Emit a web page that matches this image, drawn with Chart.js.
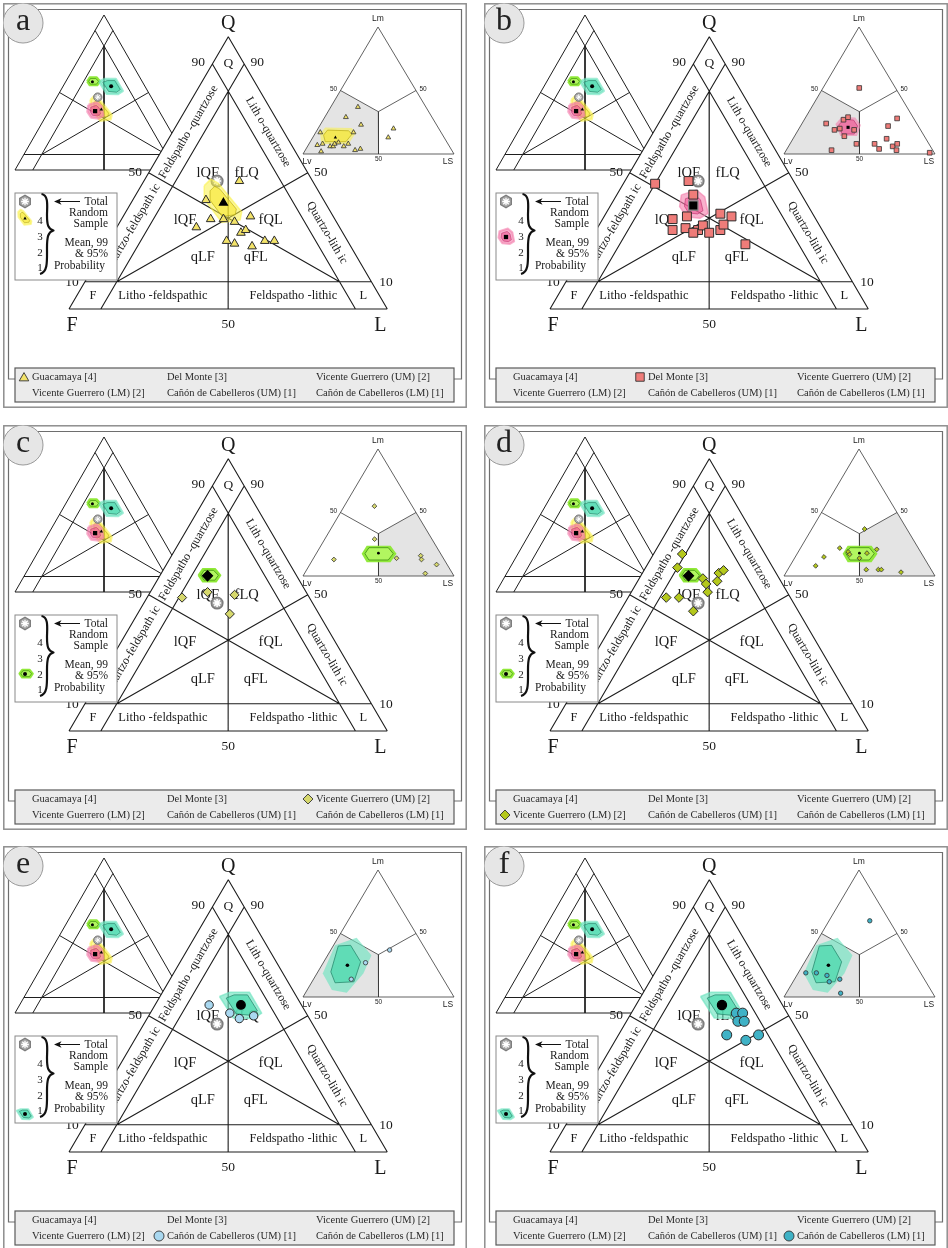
<!DOCTYPE html>
<html>
<head>
<meta charset="utf-8">
<title>QFL / LmLvLs ternary plots</title>
<script src="https://cdn.jsdelivr.net/npm/chart.js@4.4.1/dist/chart.umd.min.js"></script>
<style>
  html, body { margin: 0; padding: 0; background: #ffffff; }
  body { position: relative; width: 948px; height: 1248px; overflow: hidden; }
  canvas { position: absolute; }
</style>
</head>
<body>
<canvas id="panel-a" width="464" height="405" style="left:3px;top:3px"></canvas>
<canvas id="panel-b" width="464" height="405" style="left:484px;top:3px"></canvas>
<canvas id="panel-c" width="464" height="405" style="left:3px;top:425px"></canvas>
<canvas id="panel-d" width="464" height="405" style="left:484px;top:425px"></canvas>
<canvas id="panel-e" width="464" height="405" style="left:3px;top:846px"></canvas>
<canvas id="panel-f" width="464" height="405" style="left:484px;top:846px"></canvas>
<script>
// ---- data -----------------------------------------------------------------
const legendLabels = ['Guacamaya [4]', 'Del Monte [3]', 'Vicente Guerrero (UM) [2]',
  'Vicente Guerrero (LM) [2]', 'Cañón de Cabelleros (UM) [1]', 'Cañón de Cabelleros (LM) [1]'];

// sample compositions, [Q, F, L] %
const qflGuacamaya = [[47,23,30],[40,37,23],[33,39,28],[30,45,25],[33,35,32],[32,32,36],[34,26,40],
  [28,32,40],[29,30,41],[25,38,37],[24,36,40],[23,31,46],[25,26,49],[25,23,52]];
const qflDelMonte = [[46,44,10],[47,33,20],[42,34,24],[33,45,22],[29,47,24],[30,43,28],[29,39,32],
  [31,37,33],[28,36,36],[29,32,39],[35,29,36],[34,26,40],[31,30,39],[24,27,50],[34,40,26],[28,41,31]];
const qflVGUM = [[49,40,11],[51,31,18],[50,23,27],[43,28,29]];
const qflVGLM = [[65,26,9],[60,30,10],[56,24,20],[54,24,22],[58,18,24],[59,16,25],[55,20,25],
  [51,25,24],[49,39,12],[49,35,16],[44,33,23]];
const qflCCUM = [[54,29,17],[51,24,25],[49,22,29],[50,17,33]];
const qflCCLM = [[51,16,33],[51,14,35],[48,17,35],[48,15,37],[43,23,34],[41,18,41],[43,13,44]];

// lithic fragments, [Lm, Lv, Ls] %
const lmGuacamaya = [[17,80,3],[7,87,6],[8,83,9],[6,79,15],[6,77,17],[8,75,17],[9,72,19],[6,70,24],
  [8,66,26],[17,58,25],[2,87,11],[3,64,33],[4,60,36],[37,45,18],[29,57,14],[23,50,27],[20,30,50],[13,37,50]];
const lmDelMonte = [[52,24,24],[24,60,16],[27,47,26],[29,43,28],[19,57,24],[20,53,27],[14,53,33],
  [19,44,37],[8,48,44],[3,67,30],[8,36,56],[4,35,61],[12,26,62],[22,20,58],[28,11,61],[6,25,69],
  [8,21,71],[3,24,73],[1,3,96]];
const lmVGUM = [[55,25,20],[29,38,33],[13,73,14],[14,31,55],[16,14,70],[13,15,72],[9,7,84],[2,18,80]];
const lmVGLM = [[37,28,35],[22,52,26],[15,66,19],[8,75,17],[19,48,33],[17,48,35],[14,43,43],[18,36,46],
  [21,28,51],[5,43,52],[5,35,60],[5,33,62],[3,21,76]];
const lmCCUM = [[27,45,28],[14,61,25],[37,24,39]];
const lmCCLM = [[60,13,27],[19,76,5],[19,69,12],[17,63,20],[12,64,24],[14,56,30],[3,61,36]];

// group means
const meanQflGuacamaya = [39,32,29];
const meanQflDelMonte = [38,36,26];
const meanQflVG = [57,28,15];
const meanQflCC = [54,19,27];
const meanQflTotal = [47,30,23];
const meanLmGuacamaya = [13,72,15];
const meanLmDelMonte = [21,47,32];
const meanLmVG = [18,41,41];
const meanLmCC = [25,58,17];

// 99 % (outer) and 95 % (inner) regions around the means
const hullGuacOuter = [[45.3,34.9,19.8],[47.7,31.6,20.7],[46.2,30,23.8],[35.7,27.9,36.4],[32.7,29.9,37.4],[31.8,36.1,32.1],[40,37.3,22.7]];
const hullGuacInner = [[43.4,34,22.6],[45.1,31.7,23.2],[44,30.6,25.4],[36.7,29.1,34.2],[34.6,30.5,34.9],[34,34.9,31.1],[39.7,35.7,24.6]];
const hullDelMonteOuter = [[41.9,37.8,20.3],[43.7,32.1,24.2],[41.2,30.8,28],[35.1,32.8,32.1],[33.3,36.3,30.4],[33.9,40.2,25.9],[37.6,40.5,21.9]];
const hullDelMonteInner = [[40.5,37.2,22.3],[41.7,33.5,24.8],[40.1,32.7,27.2],[36.1,33.9,30],[34.9,36.2,28.9],[35.3,38.8,25.9],[37.7,38.9,23.4]];
const hullVGOuter = [[57.2,30.8,12],[59.6,28.2,12.2],[59.6,24.3,16.1],[57.2,23.8,19],[54.8,26.4,18.8],[54.8,30.6,14.6]];
const hullVGInner = [[57.2,30,12.8],[59,28.1,12.9],[59,25.1,15.9],[57.2,24.5,18.3],[55.4,26.5,18.1],[55.4,29.9,14.7]];
const hullCCOuter = [[57.1,24.2,18.7],[58.7,20.1,21.2],[58.7,14,27.3],[51,14,35],[49,17.6,33.4],[49.2,23.8,27]];
const hullCCInner = [[56.5,22.4,21.1],[57.7,19.3,23],[57.7,15.1,27.2],[51.9,14.9,33.2],[50.2,17.8,32],[50.7,22.1,27.2]];

const lmHullGuacOuter = [[16.2,80.5,3.3],[20.9,74.8,4.3],[20.4,57.5,22.1],[16.8,56.4,26.8],[7.9,65.9,26.2],[7.9,83.9,8.2]];
const lmHullGuacInner = [[14.9,78.9,6.2],[18.8,74.3,6.9],[18.3,60.7,21],[15.7,59.6,24.7],[9.7,66.7,23.6],[9.7,80.4,9.9]];
const lmHullDelMonteOuter = [[23.6,54.1,22.3],[29.3,46.9,23.8],[28.8,38.3,32.9],[22.8,37.6,39.6],[14.1,44.6,41.3],[14.1,55.6,30.3]];
const lmHullDelMonteInner = [[22.8,52.3,24.9],[27.2,46.8,26],[26.7,40.5,32.8],[22,40.2,37.8],[15.7,45.6,38.7],[15.7,53.7,30.6]];
const lmHullVGOuter = [[17.6,52.3,30.1],[23.9,45.8,30.3],[23.9,30,46.1],[17.6,29.2,53.2],[10.8,36.6,52.6],[10.8,52.4,36.8]];
const lmHullVGInner = [[17.6,50.1,32.3],[22.3,45.1,32.6],[22.3,32.3,45.4],[17.6,31.4,51],[12.6,37.2,50.2],[12.6,50,37.4]];
const lmHullCCOuter = [[18.5,77.6,3.9],[40.7,58.3,1],[46.7,41,12.3],[32.9,38.1,29],[18.5,50.7,30.8],[3.4,69.3,27.3],[5.5,78.1,16.4]];
const lmHullCCInner = [[19.8,71.6,8.6],[40.2,56.4,3.4],[40.7,48,11.3],[27.7,47.9,24.4],[12,60.2,27.8],[11.2,73.1,15.7]];

// diagram fields (apex, left, right components)
const qflGrid = [
  [[100,0,0],[0,100,0]], [[0,100,0],[0,0,100]], [[0,0,100],[100,0,0]],
  [[90,10,0],[0,10,90]], [[90,0,10],[0,90,10]], [[10,90,0],[10,0,90]],
  [[50,50,0],[10,10,80]], [[50,0,50],[10,80,10]], [[80,10,10],[0,50,50]]
];
const lmGrid = [
  [[1,0,0],[0,1,0]], [[0,1,0],[0,0,1]], [[0,0,1],[1,0,0]],
  [[1,1,0],[1,1,1]], [[1,0,1],[1,1,1]], [[1,1,1],[0,1,1]]
];
const lvField = [[0,1,0],[1,1,0],[1,1,1],[0,1,1]];
const lsField = [[0,0,1],[1,0,1],[1,1,1],[0,1,1]];

// ---- layout & style --------------------------------------------------------
const W = 464, H = 405;
const SERIF = '"Liberation Serif", "Times New Roman", Times, serif';
const SANS = '"Liberation Sans", Arial, Helvetica, sans-serif';
const mainTri = { top: [225.3, 33.7], left: [66, 306], right: [384.3, 306] };
const qflInset = { top: [101, 12], left: [12, 167], right: [190, 167] };
const lmInset = { top: [375, 24], left: [300, 151], right: [451, 151] };

const hullYellow = { outer: 'rgba(250,240,70,0.55)', inner: 'rgba(246,230,40,0.55)', line: 'rgba(185,170,20,0.85)' };
const hullPink = { outer: 'rgba(243,125,172,0.6)', inner: 'rgba(236,84,146,0.55)', line: 'rgba(190,50,110,0.8)' };
const hullGreen = { outer: 'rgba(140,232,50,0.95)', inner: 'rgba(180,247,98,0.95)', line: '#3f8f10' };
const hullTeal = { outer: 'rgba(110,228,192,0.65)', inner: 'rgba(72,216,172,0.7)', line: '#2a8c70' };

function tern(tri, v) {
  const s = v[0] + v[1] + v[2];
  return {
    x: (v[0] * tri.top[0] + v[1] * tri.left[0] + v[2] * tri.right[0]) / s,
    y: (v[0] * tri.top[1] + v[1] * tri.left[1] + v[2] * tri.right[1]) / s
  };
}
function polyline(tri, list) { return list.map(v => tern(tri, v)); }
function closed(tri, list) { const p = polyline(tri, list); p.push(p[0]); return p; }
function segments(tri, segs) {
  const out = [];
  segs.forEach(s => { out.push(tern(tri, s[0]), tern(tri, s[1]), { x: null, y: null }); });
  return out;
}

function lineSet(data, color, width) {
  return { data, showLine: true, fill: false, spanGaps: false, borderColor: color, borderWidth: width,
    pointRadius: 0, pointHoverRadius: 0 };
}
function polySet(data, bg, stroke, width) {
  return { data, showLine: true, fill: 'shape', backgroundColor: bg, borderColor: stroke || 'rgba(0,0,0,0)',
    borderWidth: width || 0, borderJoinStyle: 'round', pointRadius: 0, pointHoverRadius: 0 };
}
function pointSet(data, style, radius, bg, border, bw) {
  return { data, showLine: false, pointStyle: style, pointRadius: radius, pointHoverRadius: radius,
    pointBackgroundColor: bg, pointBorderColor: border, pointBorderWidth: bw };
}

const insetGroups = [
  { outer: hullGuacOuter, inner: hullGuacInner, colors: hullYellow, mean: meanQflGuacamaya, style: 'triangle', r: 2 },
  { outer: hullDelMonteOuter, inner: hullDelMonteInner, colors: hullPink, mean: meanQflDelMonte, style: 'rect', r: 3 },
  { outer: hullVGOuter, inner: hullVGInner, colors: hullGreen, mean: meanQflVG, style: 'circle', r: 1.5 },
  { outer: hullCCOuter, inner: hullCCInner, colors: hullTeal, mean: meanQflCC, style: 'circle', r: 2 }
];

const panels = [
  { id: 'panel-a', letter: 'a', qfl: qflGuacamaya, lm: lmGuacamaya, mean: meanQflGuacamaya, lmMean: meanLmGuacamaya,
    hull: [hullGuacOuter, hullGuacInner], lmHull: [lmHullGuacOuter, lmHullGuacInner], colors: hullYellow,
    field: lvField, style: 'triangle', fill: '#f3e369', pointR: 5, insetR: 2.8, meanR: 4.6, meanBorder: '#000',
    lmMeanR: 1.9, keyY: 215, iconScale: 0.35, legendIdx: 0 },
  { id: 'panel-b', letter: 'b', qfl: qflDelMonte, lm: lmDelMonte, mean: meanQflDelMonte, lmMean: meanLmDelMonte,
    hull: [hullDelMonteOuter, hullDelMonteInner], lmHull: [lmHullDelMonteOuter, lmHullDelMonteInner], colors: hullPink,
    field: lvField, style: 'rect', fill: '#ef7c79', pointR: 6.3, insetR: 3.3, meanR: 6.6, meanBorder: '#8a8a8a',
    lmMeanR: 2.2, keyY: 234, iconScale: 0.55, legendIdx: 1 },
  { id: 'panel-c', letter: 'c', qfl: qflVGUM, lm: lmVGUM, mean: meanQflVG, lmMean: meanLmVG,
    hull: [hullVGOuter, hullVGInner], lmHull: [lmHullVGOuter, lmHullVGInner], colors: hullGreen,
    field: lsField, style: 'rectRot', fill: '#d6d86c', pointR: 4.6, insetR: 2.4, meanR: 5, meanBorder: '#000',
    lmMeanR: 1.4, keyY: 249, iconScale: 0.6, legendIdx: 2 },
  { id: 'panel-d', letter: 'd', qfl: qflVGLM, lm: lmVGLM, mean: meanQflVG, lmMean: meanLmVG,
    hull: [hullVGOuter, hullVGInner], lmHull: [lmHullVGOuter, lmHullVGInner], colors: hullGreen,
    field: lsField, style: 'rectRot', fill: '#b4c81c', pointR: 4.8, insetR: 2.4, meanR: 5, meanBorder: '#000',
    lmMeanR: 1.4, keyY: 249, iconScale: 0.6, legendIdx: 3 },
  { id: 'panel-e', letter: 'e', qfl: qflCCUM, lm: lmCCUM, mean: meanQflCC, lmMean: meanLmCC,
    hull: [hullCCOuter, hullCCInner], lmHull: [lmHullCCOuter, lmHullCCInner], colors: hullTeal,
    field: lvField, style: 'circle', fill: '#a9d8f0', pointR: 4.2, insetR: 2.2, meanR: 4.3, meanBorder: '#000',
    lmMeanR: 1.8, keyY: 268, iconScale: 0.38, legendIdx: 4 },
  { id: 'panel-f', letter: 'f', qfl: qflCCLM, lm: lmCCLM, mean: meanQflCC, lmMean: meanLmCC,
    hull: [hullCCOuter, hullCCInner], lmHull: [lmHullCCOuter, lmHullCCInner], colors: hullTeal,
    field: lvField, style: 'circle', fill: '#3fb2c6', pointR: 5, insetR: 2.2, meanR: 4.6, meanBorder: '#000',
    lmMeanR: 1.8, keyY: 268, iconScale: 0.38, legendIdx: 5 }
];

// ---- datasets --------------------------------------------------------------
function buildDatasets(p) {
  const sets = [];
  // small QFL summary diagram with every group mean
  sets.push(lineSet(segments(qflInset, qflGrid), '#1e1e1e', 1));
  insetGroups.forEach(g => {
    sets.push(polySet(closed(qflInset, g.outer), g.colors.outer, g.colors.outer, 2.5));
    sets.push(polySet(closed(qflInset, g.inner), g.colors.inner, g.colors.line, 0.7));
  });
  sets.push(pointSet([tern(qflInset, meanQflTotal)], 'circle', 4.2, '#a4a4a4', '#7c7c7c', 1));
  sets.push(pointSet([tern(qflInset, meanQflTotal)], 'star', 2.9, '#fff', '#fff', 1));
  insetGroups.forEach(g => sets.push(pointSet([tern(qflInset, g.mean)], g.style, g.r, '#000', '#000', 0)));

  // main diagram, white body hides the summary diagram behind it
  sets.push(polySet(closed(mainTri, [[100,0,0],[0,100,0],[0,0,100]]), '#ffffff'));
  const grid = lineSet(segments(mainTri, qflGrid), '#1c1c1c', 1.1);
  grid.tag = 'mainGrid';
  sets.push(grid);

  // Lm-Lv-Ls diagram
  sets.push(polySet(closed(lmInset, p.field), '#e4e4e4'));
  sets.push(lineSet(segments(lmInset, lmGrid), '#3a3a3a', 0.8));
  sets.push(polySet(closed(lmInset, p.lmHull[0]), p.colors.outer));
  sets.push(polySet(closed(lmInset, p.lmHull[1]), p.colors.inner, p.colors.line, 0.8));
  sets.push(pointSet(polyline(lmInset, p.lm), p.style, p.insetR, p.fill, '#333', 0.8));
  sets.push(pointSet([tern(lmInset, p.lmMean)], p.style === 'rectRot' ? 'circle' : p.style, p.lmMeanR, '#000', '#000', 0));

  // main data
  sets.push(pointSet([tern(mainTri, meanQflTotal)], 'circle', 5.8, '#a4a4a4', '#7c7c7c', 1.5));
  sets.push(pointSet([tern(mainTri, meanQflTotal)], 'star', 4, '#fff', '#fff', 1.6));
  sets.push(polySet(closed(mainTri, p.hull[0]), p.colors.outer, p.colors.outer, 1.5));
  sets.push(polySet(closed(mainTri, p.hull[1]), p.colors.inner, p.colors.line, 0.8));
  sets.push(pointSet(polyline(mainTri, p.qfl), p.style, p.pointR, p.fill, '#2b2b2b', 1));
  sets.push(pointSet([tern(mainTri, p.mean)], p.style, p.meanR, '#000', p.meanBorder, 1.2));

  sets.forEach((s, i) => { s.order = -i; });
  return sets;
}

// ---- canvas helpers --------------------------------------------------------
function pt(chart, u, v) { return [chart.scales.x.getPixelForValue(u), chart.scales.y.getPixelForValue(v)]; }
function tp(chart, tri, comp) { const q = tern(tri, comp); return pt(chart, q.x, q.y); }

function text(ctx, s, x, y, size, opts) {
  opts = opts || {};
  ctx.save();
  ctx.translate(x, y);
  if (opts.rot) ctx.rotate(opts.rot);
  ctx.font = size + 'px ' + (opts.family || SERIF);
  ctx.textAlign = opts.align || 'center';
  ctx.textBaseline = 'middle';
  ctx.fillStyle = opts.color || '#1a1a1a';
  ctx.fillText(s, 0, 0);
  ctx.restore();
}

function drawMarker(ctx, style, x, y, r, fill, stroke, lw) {
  ctx.save();
  ctx.beginPath();
  if (style === 'triangle') {
    for (let k = 0; k < 3; k++) {
      const a = k * 2 * Math.PI / 3;
      const px = x + Math.sin(a) * r, py = y - Math.cos(a) * r + r * 0.2;
      if (k === 0) ctx.moveTo(px, py); else ctx.lineTo(px, py);
    }
    ctx.closePath();
  } else if (style === 'rect') {
    const s = r * Math.SQRT1_2;
    ctx.rect(x - s, y - s, 2 * s, 2 * s);
  } else if (style === 'rectRot') {
    ctx.moveTo(x, y - r); ctx.lineTo(x + r, y); ctx.lineTo(x, y + r); ctx.lineTo(x - r, y); ctx.closePath();
  } else {
    ctx.arc(x, y, r, 0, Math.PI * 2);
  }
  ctx.fillStyle = fill; ctx.fill();
  if (lw) { ctx.lineWidth = lw; ctx.strokeStyle = stroke; ctx.stroke(); }
  ctx.restore();
}

function drawStarIcon(ctx, x, y, r) {
  ctx.save();
  ctx.beginPath();
  for (let k = 0; k < 6; k++) {
    const a = Math.PI / 6 + k * Math.PI / 3;
    const px = x + Math.cos(a) * r, py = y + Math.sin(a) * r;
    if (k === 0) ctx.moveTo(px, py); else ctx.lineTo(px, py);
  }
  ctx.closePath();
  ctx.fillStyle = '#a4a4a4'; ctx.fill();
  ctx.strokeStyle = '#7c7c7c'; ctx.lineWidth = 1.2; ctx.stroke();
  ctx.strokeStyle = '#fff'; ctx.lineWidth = 1.3;
  ctx.beginPath();
  for (let k = 0; k < 4; k++) {
    const a = k * Math.PI / 4, d = r * 0.62;
    ctx.moveTo(x - Math.cos(a) * d, y - Math.sin(a) * d);
    ctx.lineTo(x + Math.cos(a) * d, y + Math.sin(a) * d);
  }
  ctx.stroke();
  ctx.restore();
}

// ---- decoration drawn around the datasets ---------------------------------
function drawFrame(chart) {
  const ctx = chart.ctx;
  ctx.save();
  ctx.fillStyle = '#fff';
  ctx.fillRect(0, 0, W, H);
  ctx.strokeStyle = '#8e8e8e'; ctx.lineWidth = 1.5;
  const a = pt(chart, 0.8, 0.8), b = pt(chart, W - 0.8, H - 0.8);
  ctx.strokeRect(a[0], a[1], b[0] - a[0], b[1] - a[1]);
  ctx.strokeStyle = '#6e6e6e'; ctx.lineWidth = 1.2;
  ctx.beginPath();
  [[12, 376], [5.5, 376], [5.5, 6.5], [458.5, 6.5], [458.5, 376], [451, 376]].forEach((q, i) => {
    const c = pt(chart, q[0], q[1]);
    if (i === 0) ctx.moveTo(c[0], c[1]); else ctx.lineTo(c[0], c[1]);
  });
  ctx.stroke();
  ctx.restore();
}

function drawMainLabels(chart) {
  const ctx = chart.ctx;
  const at = (comp, dx, dy) => { const c = tp(chart, mainTri, comp); return [c[0] + (dx || 0), c[1] + (dy || 0)]; };
  const put = (s, comp, dx, dy, size, opts) => { const c = at(comp, dx, dy); text(ctx, s, c[0], c[1], size, opts); };
  const leftAng = Math.atan2(mainTri.top[1] - mainTri.left[1], mainTri.top[0] - mainTri.left[0]);
  const rightAng = Math.atan2(mainTri.right[1] - mainTri.top[1], mainTri.right[0] - mainTri.top[0]);

  put('Q', [100, 0, 0], 0, -13, 20);
  put('F', [0, 100, 0], 3, 17, 20);
  put('L', [0, 0, 100], -7, 17, 20);
  put('50', [0, 50, 50], 0, 15, 13.5);
  put('90', [90, 10, 0], -14, -1, 13.5);
  put('90', [90, 0, 10], 13, -1, 13.5);
  put('Q', [90, 5, 5], 0, 0, 13.5);
  put('50', [50, 50, 0], -13.5, 0, 13.5);
  put('50', [50, 0, 50], 13, 0, 13.5);
  put('10', [10, 90, 0], -13, 1, 13.5);
  put('10', [10, 0, 90], 14.5, 1, 13.5);

  put('lQF', [49.8, 31.5, 18.7], 0, 0, 14.5);
  put('fLQ', [49.8, 19.3, 30.9], 0, 0, 14.5);
  put('lQF', [32.7, 47.2, 20.1], 0, 0, 14.5);
  put('fQL', [32.7, 20.3, 47], 0, 0, 14.5);
  put('qLF', [19, 48.5, 32.5], 0, 0, 14.5);
  put('qFL', [19, 31.8, 49.2], 0, 0, 14.5);

  put('Feldspatho -quartzose', [65, 30, 5], 0, 0, 12, { rot: leftAng });
  put('Quartzo-feldspath ic', [30, 65, 5], 0, 0, 12, { rot: leftAng });
  put('Lith o-quartzose', [65, 5, 30], 0, 0, 12, { rot: rightAng });
  put('Quartzo-lith ic', [28, 5, 67], 0, 0, 12, { rot: rightAng });
  put('Litho -feldspathic', [5, 68, 27], 0, 0, 12.5);
  put('Feldspatho -lithic', [5, 27, 68], 0, 0, 12.5);
  put('F', [5, 90, 5], 0, 0, 12.5);
  put('L', [5, 5, 90], 0, 0, 12.5);
}

function drawInsetLabels(chart) {
  const ctx = chart.ctx;
  const put = (s, comp, dx, dy, size) => {
    const c = tp(chart, lmInset, comp);
    text(ctx, s, c[0] + dx, c[1] + dy, size, { family: SANS, color: '#222' });
  };
  put('Lm', [1, 0, 0], 0, -8, 8.5);
  put('Lv', [0, 1, 0], 4, 8, 8.5);
  put('LS', [0, 0, 1], -6, 8, 8.5);
  put('50', [0, 1, 1], 0, 5.5, 6.5);
  put('50', [1, 1, 0], -7, -1, 6.5);
  put('50', [1, 0, 1], 7, -1, 6.5);
}

function drawKey(chart, p) {
  const ctx = chart.ctx;
  const c = (u, v) => pt(chart, u, v);
  ctx.save();
  const a = c(12, 190), b = c(114, 277);
  ctx.fillStyle = '#fff';
  ctx.fillRect(a[0], a[1], b[0] - a[0], b[1] - a[1]);
  ctx.strokeStyle = '#8a8a8a'; ctx.lineWidth = 1;
  ctx.strokeRect(a[0], a[1], b[0] - a[0], b[1] - a[1]);

  const s = c(22, 198.5);
  drawStarIcon(ctx, s[0], s[1], 6.2);

  // group icon: the main confidence regions, shrunk
  const ic = c(22, p.keyY);
  const m = tp(chart, mainTri, p.mean);
  [[p.hull[0], p.colors.outer, p.colors.outer, 2], [p.hull[1], p.colors.inner, p.colors.line, 0.7]].forEach(h => {
    ctx.beginPath();
    h[0].forEach((v, i) => {
      const q = tp(chart, mainTri, v);
      const x = ic[0] + (q[0] - m[0]) * p.iconScale, y = ic[1] + (q[1] - m[1]) * p.iconScale;
      if (i === 0) ctx.moveTo(x, y); else ctx.lineTo(x, y);
    });
    ctx.closePath();
    ctx.fillStyle = h[1]; ctx.fill();
    ctx.strokeStyle = h[2]; ctx.lineWidth = h[3]; ctx.lineJoin = 'round'; ctx.stroke();
  });
  drawMarker(ctx, p.style === 'rectRot' ? 'circle' : p.style, ic[0], ic[1], p.style === 'rect' ? 3 : 2, '#000', '#000', 0);

  [['4', 218], ['3', 234], ['2', 250], ['1', 265]].forEach(n => {
    const q = c(37, n[1]);
    text(ctx, n[0], q[0], q[1], 11);
  });

  // brace
  ctx.beginPath();
  const path = [[38.5, 191], [46, 192, 44, 204, 44, 212], [44, 222, 45, 226, 50.5, 227.5],
    [45, 229, 44, 234, 44, 245], [44, 258, 45, 269, 37, 271]];
  const p0 = c(path[0][0], path[0][1]);
  ctx.moveTo(p0[0], p0[1]);
  path.slice(1).forEach(k => {
    const c1 = c(k[0], k[1]), c2 = c(k[2], k[3]), e = c(k[4], k[5]);
    ctx.bezierCurveTo(c1[0], c1[1], c2[0], c2[1], e[0], e[1]);
  });
  ctx.strokeStyle = '#111'; ctx.lineWidth = 2.2; ctx.stroke();

  // arrow to the total sample
  const t1 = c(77, 198.5), t2 = c(55, 198.5);
  ctx.beginPath(); ctx.moveTo(t1[0], t1[1]); ctx.lineTo(t2[0], t2[1]);
  ctx.lineWidth = 1; ctx.stroke();
  const h1 = c(51, 198.5), h2 = c(58.5, 195.3), h3 = c(56.5, 198.5), h4 = c(58.5, 201.7);
  ctx.beginPath(); ctx.moveTo(h1[0], h1[1]); ctx.lineTo(h2[0], h2[1]); ctx.lineTo(h3[0], h3[1]); ctx.lineTo(h4[0], h4[1]);
  ctx.closePath(); ctx.fillStyle = '#111'; ctx.fill();

  [['Total', 105, 198.7], ['Random', 105, 209.7], ['Sample', 105, 221], ['Mean, 99', 105, 239.7],
   ['& 95%', 105, 251], ['Probability', 102, 262.7]].forEach(l => {
    const q = c(l[1], l[2]);
    text(ctx, l[0], q[0], q[1], 11.5, { align: 'right' });
  });
  ctx.restore();
}

function drawLegend(chart, p) {
  const ctx = chart.ctx;
  const c = (u, v) => pt(chart, u, v);
  ctx.save();
  const a = c(12, 365), b = c(451, 399);
  ctx.fillStyle = '#ebebeb';
  ctx.fillRect(a[0], a[1], b[0] - a[0], b[1] - a[1]);
  ctx.strokeStyle = '#5a5a5a'; ctx.lineWidth = 1.2;
  ctx.strokeRect(a[0], a[1], b[0] - a[0], b[1] - a[1]);
  const cols = [29, 164, 313], rows = [374, 390];
  legendLabels.forEach((lab, i) => {
    const x = cols[i % 3], y = rows[Math.floor(i / 3)];
    const q = c(x, y);
    text(ctx, lab, q[0], q[1], 10.5, { align: 'left', color: '#2a2a2a' });
    if (i === p.legendIdx) {
      const mk = c(x - 8, y);
      const r = p.style === 'rect' ? 6 : p.style === 'triangle' ? 5.5 : 5;
      drawMarker(ctx, p.style, mk[0], mk[1], r, p.fill, '#333', 0.9);
    }
  });
  ctx.restore();
}

function drawLetter(chart, p) {
  const ctx = chart.ctx;
  const c = pt(chart, 20, 20);
  ctx.save();
  ctx.beginPath();
  ctx.arc(c[0], c[1], 20, 0, Math.PI * 2);
  ctx.fillStyle = '#e6e6e6'; ctx.fill();
  ctx.strokeStyle = '#9a9a9a'; ctx.lineWidth = 1; ctx.stroke();
  ctx.restore();
  text(ctx, p.letter, c[0], c[1] - 1, 32, { color: '#222' });
}

function makeDecor(p) {
  return {
    id: 'decor-' + p.letter,
    beforeDatasetsDraw(chart) { drawFrame(chart); },
    afterDatasetDraw(chart, args) {
      if (chart.data.datasets[args.index].tag === 'mainGrid') drawMainLabels(chart);
    },
    afterDatasetsDraw(chart) {
      drawInsetLabels(chart);
      drawKey(chart, p);
      drawLegend(chart, p);
      drawLetter(chart, p);
    }
  };
}

// ---- charts ----------------------------------------------------------------
panels.forEach(p => {
  new Chart(document.getElementById(p.id), {
    type: 'line',
    data: { datasets: buildDatasets(p) },
    options: {
      responsive: false,
      animation: false,
      devicePixelRatio: 1,
      events: [],
      layout: { padding: 0, autoPadding: false },
      elements: { line: { tension: 0 } },
      scales: {
        x: { type: 'linear', min: 0, max: W, display: false },
        y: { type: 'linear', min: 0, max: H, reverse: true, display: false }
      },
      plugins: { legend: { display: false }, tooltip: { enabled: false } }
    },
    plugins: [makeDecor(p)]
  });
});
</script>
</body>
</html>
